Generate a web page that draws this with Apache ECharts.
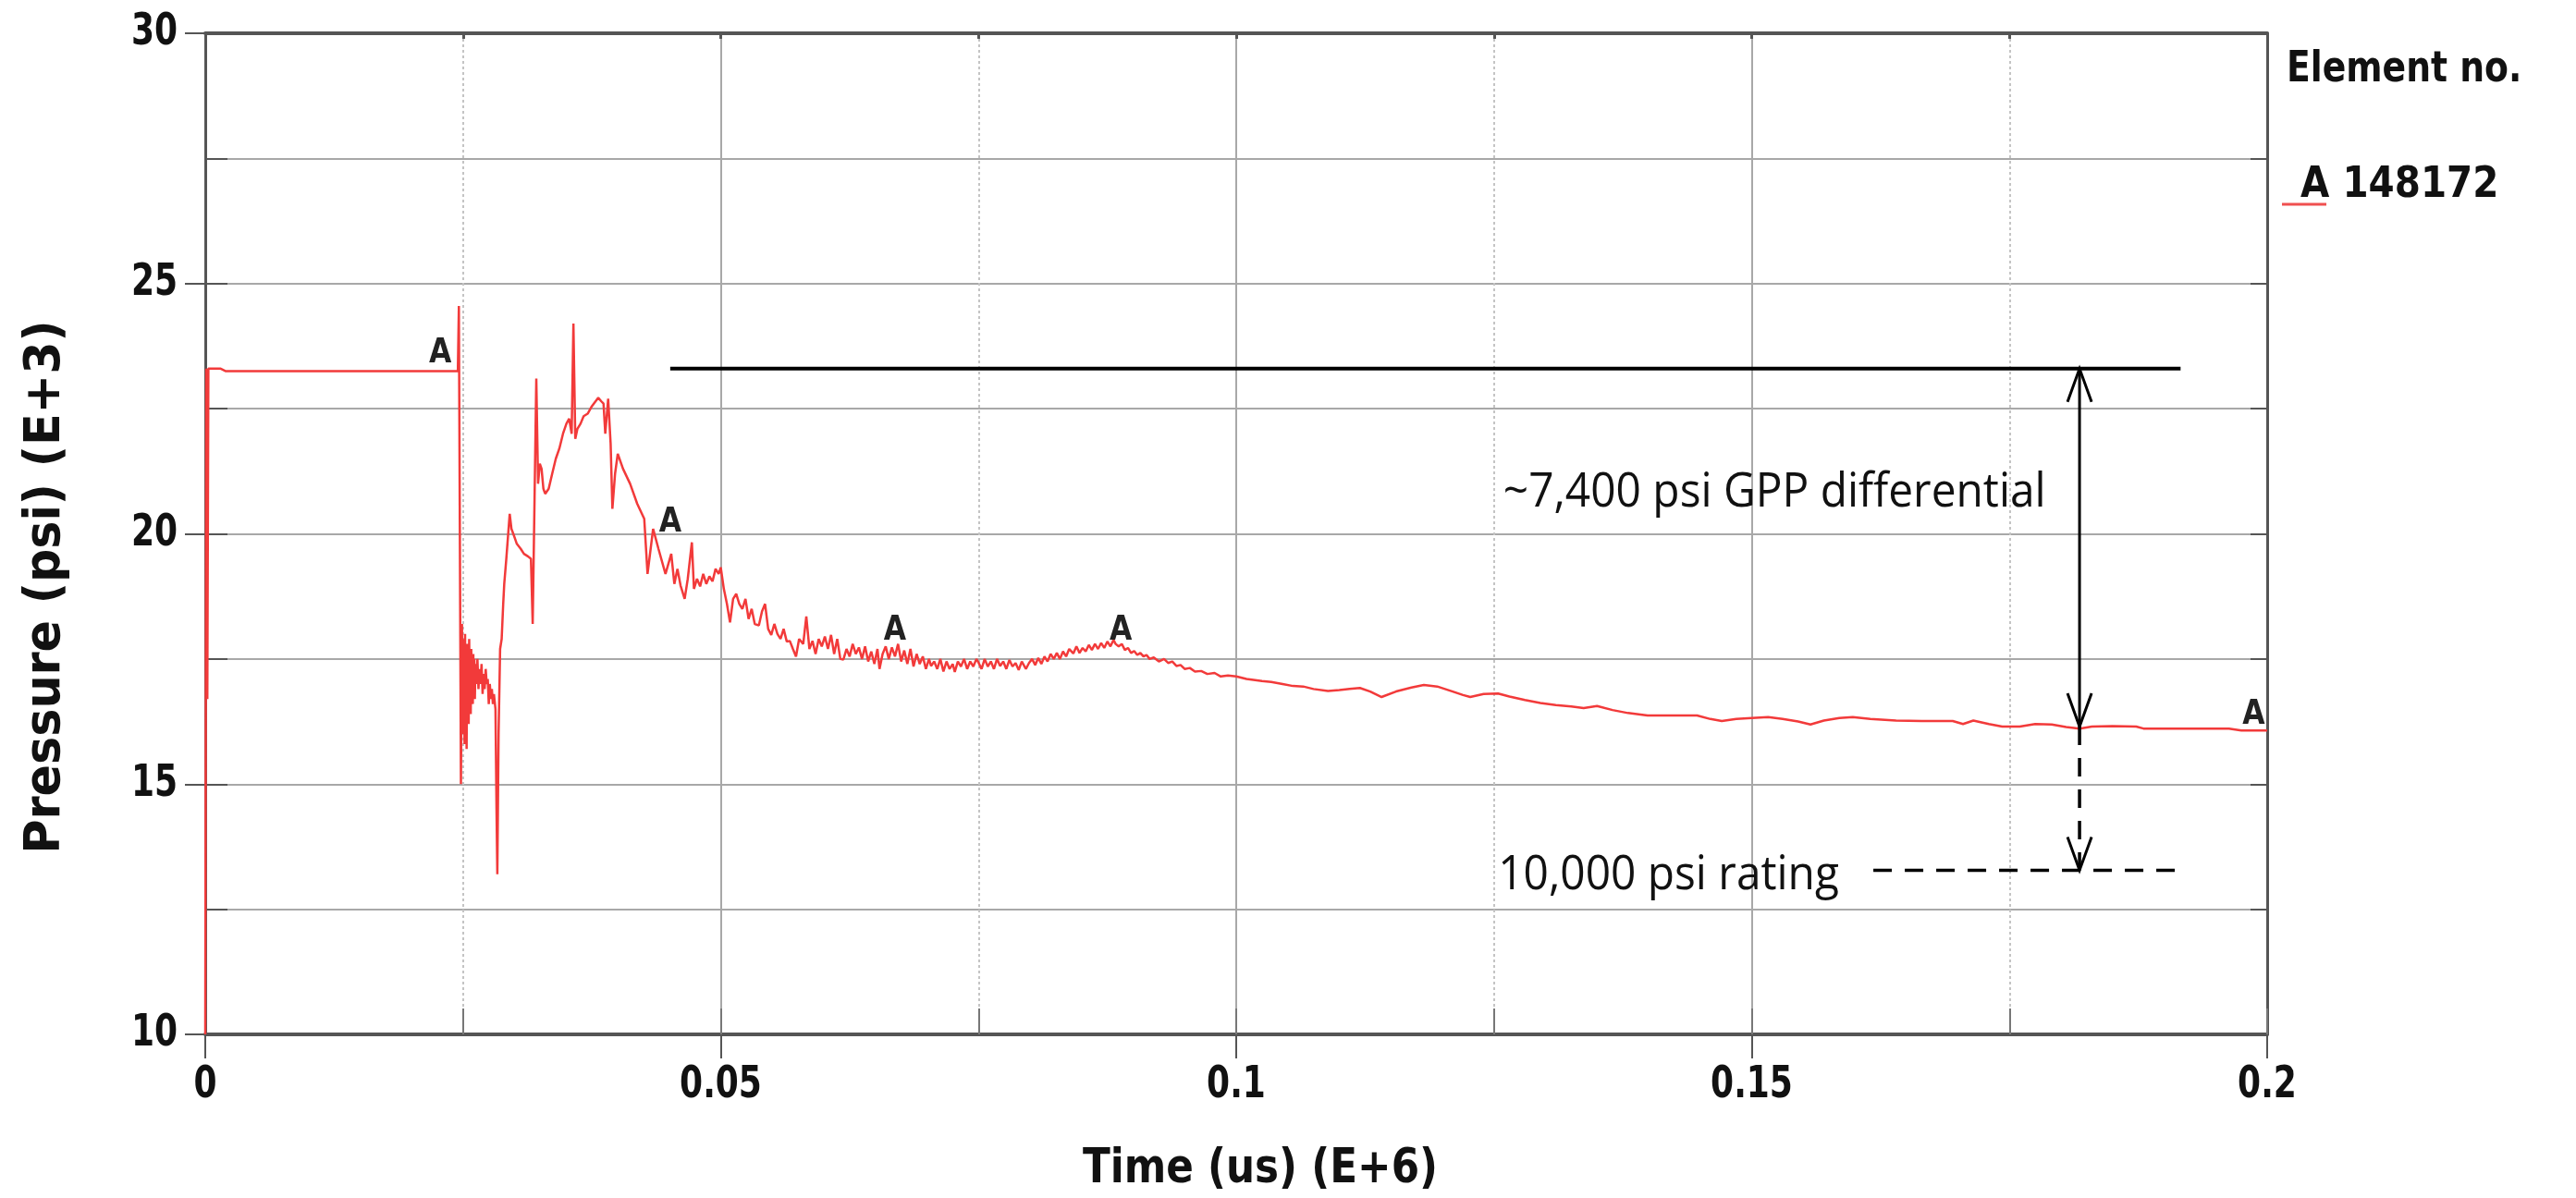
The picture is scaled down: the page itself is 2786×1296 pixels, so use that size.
<!DOCTYPE html>
<html>
<head>
<meta charset="utf-8">
<script src="https://cdn.jsdelivr.net/npm/echarts@6/dist/echarts.min.js"></script>
<style>
html,body{margin:0;padding:0;background:#fff;}
#chart{width:2786px;height:1296px;}
</style>
</head>
<body>
<div id="chart"></div>
<script>
// ---- data ----
const timeValues = [
0,0.0001,0.0002,0.0003,0.0015,0.002,0.0245,0.02455,0.0246,0.0248,0.0249,0.02495,0.025,0.02505,0.0251,0.02515,0.0252,0.02525,0.0253,0.02535,0.0254,0.02545,0.0255,0.02555,0.0256,0.02565,0.0257,0.02575,0.0258,0.02585,0.0259,0.02595,0.026,0.02605,0.0261,0.02615,0.0262,0.0263,0.0264,0.0265,0.0266,0.0267,0.0268,0.0269,0.027,0.0271,0.0272,0.0273,0.0274,0.0275,0.0276,0.0277,0.0278,0.0279,0.028,0.02815,0.02825,0.02833,0.02845,0.0286,0.02875,0.0289,0.029,0.0292,0.02953,0.0297,0.02988,0.03005,0.03022,0.0306,0.03091,0.0313,0.03159,0.03176,0.03194,0.03211,0.03228,0.03245,0.03262,0.0328,0.03297,0.03331,0.03365,0.034,0.03434,0.0347,0.03503,0.0353,0.03554,0.03571,0.03589,0.0361,0.0364,0.0367,0.03709,0.0375,0.03812,0.0384,0.03863,0.0388,0.03908,0.03932,0.03949,0.03975,0.04001,0.04052,0.04121,0.0419,0.04258,0.0429,0.04344,0.04396,0.04464,
0.0447,0.0452,0.0455,0.0458,0.0461,0.0465,0.0468,0.0472,0.0474,0.0477,0.048,0.0483,0.0486,0.0489,0.0492,0.0495,0.0498,0.05,0.0503,0.0506,0.0509,0.0512,0.0515,0.0518,0.0521,0.0524,0.0527,0.053,0.0533,0.0537,0.054,0.0543,0.0546,0.0549,0.0552,0.0555,0.0558,0.0561,0.0564,0.0567,0.057,0.0573,0.0576,0.058,0.0583,0.0586,0.0589,0.0592,0.0595,0.0598,0.0601,0.0604,0.0607,0.061,0.0613,0.0616,0.0619,0.0622,0.0625,0.0628,0.0631,0.0634,0.0637,0.064,0.0643,0.0646,0.0649,0.0652,0.0654,0.0657,0.066,0.0663,0.0666,0.0669,0.0672,0.0675,0.0678,0.0681,0.0684,0.0687,0.069,0.0693,0.0696,0.0699,0.0702,0.0704,0.0707,0.071,0.0713,0.0716,0.0719,0.0722,0.0725,0.0727,0.073,0.0733,0.0736,0.0739,0.0742,0.0745,0.0748,0.075,0.0753,0.0756,0.0759,0.0762,0.0765,0.0768,0.0771,0.0774,0.0777,0.078,0.0783,0.0786,0.0789,0.0792,0.0796,0.0799,0.0802,0.0805,0.0808,0.0811,0.0814,0.0817,0.082,0.0823,0.0826,0.0829,0.0832,0.0835,0.0838,0.0842,0.0845,0.0848,0.0851,0.0854,0.0857,0.086,0.0863,0.0866,0.0869,0.0872,0.0875,0.0878,0.0881,0.0883,0.0886,0.0889,0.0892,0.0895,0.0898,0.0901,0.0904,0.0907,0.091,0.0913,0.0916,0.092,0.0925,0.093,0.0934,0.0938,0.0942,0.0946,0.095,0.0955,0.096,0.0966,0.0972,0.0979,0.0985,0.0992,
0.1,0.101,0.1025,0.1034,0.1045,0.1055,0.1065,0.1075,0.1089,0.11,0.111,0.112,0.113,0.1141,0.1155,0.117,0.1182,0.1195,0.121,0.122,0.1227,0.124,0.1254,0.1265,0.128,0.1295,0.131,0.1325,0.1337,0.135,0.1365,0.138,0.1399,0.142,0.1447,0.146,0.1471,0.1485,0.15,0.1516,0.153,0.1545,0.1557,0.157,0.1585,0.1598,0.1615,0.164,0.1665,0.1695,0.1705,0.1715,0.173,0.1743,0.176,0.1775,0.1791,0.1805,0.1818,0.183,0.185,0.1873,0.188,0.192,0.1963,0.1975,0.2
];
const pressureValues = [
10,23.3,16.7,23.3,23.3,23.25,23.25,23.9,24.55,15.0,18.2,16.3,17.9,16.0,17.6,15.8,18.0,16.4,17.5,15.7,17.8,16.5,17.6,16.2,17.9,16.8,17.4,16.4,17.7,16.9,17.3,16.6,17.6,16.9,17.5,16.7,17.4,17.0,17.5,16.9,17.3,17.0,17.4,16.8,17.2,16.9,17.3,17.0,17.1,16.6,17.0,16.7,16.9,16.6,16.8,16.5,14.5,13.2,16.0,17.7,17.9,18.6,19.0,19.5,20.4,20.1,20.0,19.9,19.8,19.7,19.6,19.55,19.5,18.2,20.7,23.1,21.0,21.4,21.3,20.9,20.8,20.9,21.2,21.5,21.7,22.0,22.2,22.3,22.0,24.2,21.9,22.1,22.2,22.35,22.4,22.55,22.72,22.65,22.6,22.0,22.7,21.8,20.5,21.2,21.6,21.3,21.0,20.6,20.3,19.2,20.1,19.7,19.2,
19.2,19.6,19.0,19.3,18.97,18.7,19.1,19.83,18.9,19.1,18.95,19.2,19.0,19.15,19.05,19.3,19.2,19.33,18.9,18.6,18.23,18.7,18.8,18.6,18.5,18.7,18.3,18.5,18.2,18.17,18.45,18.6,18.1,17.98,18.2,18.0,17.9,18.1,17.85,17.86,17.7,17.55,17.9,17.8,18.35,17.7,17.86,17.6,17.9,17.75,17.95,17.7,17.98,17.6,17.9,17.5,17.49,17.7,17.55,17.8,17.6,17.73,17.5,17.75,17.45,17.65,17.4,17.7,17.3,17.6,17.75,17.5,17.73,17.55,17.8,17.45,17.67,17.4,17.7,17.35,17.6,17.4,17.55,17.3,17.5,17.36,17.45,17.3,17.5,17.25,17.45,17.3,17.4,17.24,17.45,17.35,17.5,17.3,17.45,17.35,17.5,17.43,17.3,17.5,17.35,17.45,17.3,17.5,17.36,17.45,17.3,17.48,17.35,17.42,17.28,17.45,17.3,17.42,17.5,17.38,17.52,17.4,17.55,17.45,17.6,17.5,17.62,17.5,17.65,17.55,17.7,17.61,17.75,17.62,17.72,17.65,17.78,17.68,17.8,17.7,17.82,17.72,17.85,17.75,17.88,17.8,17.75,17.8,17.68,17.72,17.62,17.66,17.58,17.62,17.55,17.58,17.5,17.53,17.45,17.5,17.42,17.45,17.36,17.38,17.3,17.32,17.25,17.26,17.2,17.22,17.15,17.17,
17.15,17.1,17.06,17.04,17.0,16.96,16.95,16.9,16.86,16.88,16.9,16.92,16.85,16.74,16.85,16.93,16.98,16.95,16.85,16.78,16.74,16.8,16.81,16.75,16.68,16.62,16.58,16.55,16.52,16.56,16.48,16.42,16.37,16.37,16.37,16.3,16.26,16.3,16.32,16.34,16.3,16.25,16.19,16.27,16.32,16.34,16.3,16.27,16.26,16.26,16.2,16.27,16.2,16.15,16.15,16.2,16.19,16.14,16.11,16.15,16.16,16.15,16.11,16.11,16.11,16.07,16.07
];
const markerTimes = [0.0228, 0.0451, 0.0669, 0.0888, 0.1987];
const markerValues = [23.6, 20.23, 18.07, 18.07, 16.39];
const seriesName = 'A 148172';
const legendTitle = 'Element no.';
const xAxisTitle = 'Time (us) (E+6)';
const yAxisTitle = 'Pressure (psi) (E+3)';
const xTickValues = [0, 0.05, 0.1, 0.15, 0.2];
const xTickLabels = ['0', '0.05', '0.1', '0.15', '0.2'];
const yTickValues = [10, 15, 20, 25, 30];
const yTickLabels = ['10', '15', '20', '25', '30'];
// annotation values
const gppLevel = 23.3;
const tipLevel = 16.15;
const ratingLevel = 13.28;
const arrowTime = 0.1818;
const gppLineTimes = [0.0451, 0.1916];
const ratingLineTimes = [0.1618, 0.1912];
const annotationTexts = ['~7,400 psi GPP differential', '10,000 psi rating'];
const annotationTimes = [0.1259, 0.1254];
const annotationValues = [20.82, 13.18];

// ---- build ----
const X_MIN = 0, X_MAX = 0.2, Y_MIN = 10, Y_MAX = 30;
const lineData = timeValues.map((t, i) => [t, pressureValues[i]]);
const markerData = markerTimes.map((t, i) => [t, markerValues[i]]);
const solidSegs = [
  [gppLineTimes[0], gppLevel, gppLineTimes[1], gppLevel, 4],
  [arrowTime, gppLevel, arrowTime, tipLevel, 3]
];
const dashedSegs = [
  [arrowTime, tipLevel, arrowTime, ratingLevel],
  [ratingLineTimes[0], ratingLevel, ratingLineTimes[1], ratingLevel]
];
const arrowHeads = [
  [arrowTime, gppLevel, 1],
  [arrowTime, tipLevel, -1],
  [arrowTime, ratingLevel, -1]
];
const textData = annotationTexts.map((s, i) => [annotationTimes[i], annotationValues[i], i]);
const xTickData = xTickValues.map((v, i) => [v, Y_MIN, i]);
const yTickData = yTickValues.map((v, i) => [X_MIN, v, i]);

const boldFont = '"DejaVu Sans", sans-serif';
const noteFont = '"Open Sans", sans-serif';
const gridColor = '#a8a8a8';
const axisColor = '#555';

const chart = echarts.init(document.getElementById('chart'), null, {renderer: 'canvas'});
const option = {
  animation: false,
  backgroundColor: '#fff',
  grid: {left: 222, right: 334, top: 36, bottom: 177, containLabel: false},
  xAxis: [
    { type: 'value', position: 'bottom', min: X_MIN, max: X_MAX, interval: 0.025,
      axisLine: {show: false}, axisLabel: {show: false},
      axisTick: {show: true, inside: true, length: 28, lineStyle: {color: '#777', width: 2}},
      splitLine: {show: true, lineStyle: {color: '#c4c4c4', width: 2, type: [3, 3]}} },
    { type: 'value', position: 'bottom', min: X_MIN, max: X_MAX, interval: 0.05,
      axisLine: {show: true, onZero: false, lineStyle: {color: axisColor, width: 4}},
      axisTick: {show: true, inside: false, length: 26, lineStyle: {color: '#555', width: 2}},
      axisLabel: {show: false},
      splitLine: {show: true, lineStyle: {color: gridColor, width: 2}} },
    { type: 'value', position: 'top', min: X_MIN, max: X_MAX, interval: 0.025,
      axisLine: {show: true, onZero: false, lineStyle: {color: axisColor, width: 4}},
      axisTick: {show: true, inside: true, length: 6, lineStyle: {color: '#555', width: 3}},
      axisLabel: {show: false}, splitLine: {show: false} }
  ],
  yAxis: [
    { type: 'value', position: 'left', min: Y_MIN, max: Y_MAX, interval: 2.5,
      axisLine: {show: false}, axisLabel: {show: false},
      axisTick: {show: true, inside: true, length: 24, lineStyle: {color: '#555', width: 2}},
      splitLine: {show: true, lineStyle: {color: gridColor, width: 2}} },
    { type: 'value', position: 'left', min: Y_MIN, max: Y_MAX, interval: 5,
      axisLine: {show: true, onZero: false, lineStyle: {color: axisColor, width: 3}},
      axisTick: {show: true, inside: false, length: 22, lineStyle: {color: '#555', width: 2}},
      axisLabel: {show: false}, splitLine: {show: false} },
    { type: 'value', position: 'right', min: Y_MIN, max: Y_MAX, interval: 2.5,
      axisLine: {show: true, onZero: false, lineStyle: {color: axisColor, width: 3}},
      axisTick: {show: true, inside: true, length: 18, lineStyle: {color: '#555', width: 2}},
      axisLabel: {show: false}, splitLine: {show: false} }
  ],
  series: [
    { name: seriesName, type: 'line', xAxisIndex: 1, yAxisIndex: 1, data: lineData,
      showSymbol: false, symbol: 'none', smooth: false,
      lineStyle: {color: '#f23a3a', width: 2.5}, z: 5 },
    // "A" curve labels
    { type: 'custom', xAxisIndex: 1, yAxisIndex: 1, data: markerData, z: 6,
      renderItem: (params, api) => {
        const p = api.coord([api.value(0), api.value(1)]);
        return {type: 'text', x: p[0], y: p[1], scaleX: 0.85,
          style: {text: 'A', fontFamily: boldFont, fontWeight: 'bold', fontSize: 37, fill: '#222', align: 'center', verticalAlign: 'middle'}};
      } },
    // x tick labels
    { type: 'custom', xAxisIndex: 1, yAxisIndex: 1, data: xTickData, z: 6,
      renderItem: (params, api) => {
        const p = api.coord([api.value(0), api.value(1)]);
        return {type: 'text', x: p[0], y: p[1] + 56, scaleX: 0.75,
          style: {text: xTickLabels[api.value(2)], fontFamily: boldFont, fontWeight: 'bold', fontSize: 48, fill: '#111', align: 'center', verticalAlign: 'middle'}};
      } },
    // y tick labels
    { type: 'custom', xAxisIndex: 1, yAxisIndex: 1, data: yTickData, z: 6,
      renderItem: (params, api) => {
        const p = api.coord([api.value(0), api.value(1)]);
        return {type: 'text', x: p[0] - 30, y: p[1], scaleX: 0.75,
          style: {text: yTickLabels[api.value(2)], fontFamily: boldFont, fontWeight: 'bold', fontSize: 48, fill: '#111', align: 'right', verticalAlign: 'middle'}};
      } },
    { type: 'custom', xAxisIndex: 1, yAxisIndex: 1, data: solidSegs, z: 7,
      encode: {x: [0, 2], y: [1, 3]},
      renderItem: (params, api) => {
        const a = api.coord([api.value(0), api.value(1)]);
        const b = api.coord([api.value(2), api.value(3)]);
        return {type: 'line', shape: {x1: a[0], y1: a[1], x2: b[0], y2: b[1]},
          style: {stroke: '#000', lineWidth: api.value(4)}};
      } },
    { type: 'custom', xAxisIndex: 1, yAxisIndex: 1, data: dashedSegs, z: 7,
      encode: {x: [0, 2], y: [1, 3]},
      renderItem: (params, api) => {
        const a = api.coord([api.value(0), api.value(1)]);
        const b = api.coord([api.value(2), api.value(3)]);
        return {type: 'line', shape: {x1: a[0], y1: a[1], x2: b[0], y2: b[1]},
          style: {stroke: '#000', lineWidth: 3.5, lineDash: [20, 14]}};
      } },
    { type: 'custom', xAxisIndex: 1, yAxisIndex: 1, data: arrowHeads, z: 8,
      renderItem: (params, api) => {
        const p = api.coord([api.value(0), api.value(1)]);
        const d = api.value(2);
        return {type: 'polyline', shape: {points: [[p[0] - 13, p[1] + d * 36], [p[0], p[1]], [p[0] + 13, p[1] + d * 36]]},
          style: {stroke: '#000', lineWidth: 3, fill: null}};
      } },
    { type: 'custom', xAxisIndex: 1, yAxisIndex: 1, data: textData, z: 8,
      renderItem: (params, api) => {
        const p = api.coord([api.value(0), api.value(1)]);
        return {type: 'text', x: p[0], y: p[1], scaleX: 0.92,
          style: {text: annotationTexts[api.value(2)], fontFamily: noteFont, fontSize: 52, fill: '#111', align: 'left', verticalAlign: 'middle'}};
      } }
  ],
  graphic: [
    {type: 'text', x: 1363, y: 1265, scaleX: 0.84, style: {text: xAxisTitle, fontFamily: boldFont, fontWeight: 'bold', fontSize: 52, fill: '#111', align: 'center', verticalAlign: 'middle'}},
    {type: 'text', x: 50, y: 635, rotation: Math.PI / 2, scaleX: 0.94, style: {text: yAxisTitle, fontFamily: boldFont, fontWeight: 'bold', fontSize: 54, fill: '#111', align: 'center', verticalAlign: 'middle'}},
    {type: 'text', x: 2473, y: 76, scaleX: 0.82, style: {text: legendTitle, fontFamily: boldFont, fontWeight: 'bold', fontSize: 46, fill: '#111', align: 'left', verticalAlign: 'middle'}},
    {type: 'text', x: 2488, y: 201, scaleX: 0.88, style: {text: seriesName, fontFamily: boldFont, fontWeight: 'bold', fontSize: 46, fill: '#111', align: 'left', verticalAlign: 'middle'}},
    {type: 'line', shape: {x1: 2468, y1: 221, x2: 2516, y2: 221}, style: {stroke: '#f05050', lineWidth: 3}}
  ]
};
chart.setOption(option);
</script>
</body>
</html>
